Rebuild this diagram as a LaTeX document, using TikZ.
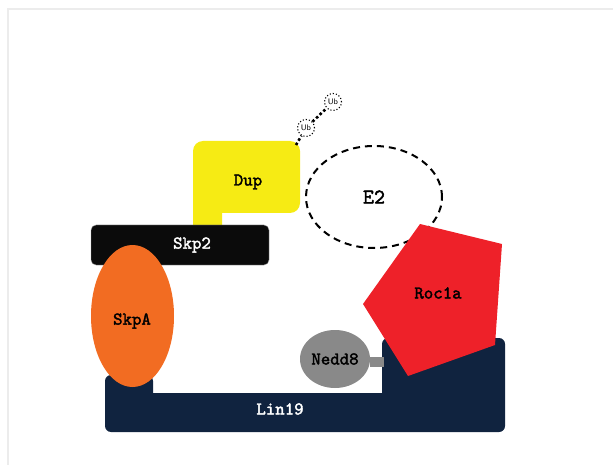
\documentclass[tikz,border=0pt]{standalone}
\usepackage{fontspec}
\newfontfamily\protfont[Extension=.otf, FakeBold=2]{lmmono10-regular}
\usetikzlibrary{positioning, shapes.geometric}

\definecolor{linnavy}{HTML}{10233F}
\definecolor{skporange}{HTML}{F26C22}
\definecolor{dupyellow}{HTML}{F6EB14}
\definecolor{rocred}{HTML}{EE2129}
\definecolor{neddgray}{HTML}{898989}
\definecolor{skpblack}{HTML}{0B0B0B}

\tikzset{
  protlabel/.style={font=\protfont\fontsize{18}{20}\selectfont},
  ubcircle/.style={circle, draw, dotted, line width=1.1pt, inner sep=0pt,
    minimum size=17pt, font=\sffamily\fontsize{8}{9}\selectfont},
  ubchain/.style={line width=2.6pt, dash pattern=on 2.6pt off 2.4pt}
}

\begin{document}
\begin{tikzpicture}[x=1pt, y=-1pt]
\useasboundingbox (0,0) rectangle (613,465);
\draw[gray!15, line width=1.5pt] (613,9) -- (8,9) -- (8,465);

% Dup
\fill[dupyellow] (193,200) rectangle (222,226)
  [rounded corners=10pt] (193,141) rectangle (300,213);
\node[protlabel] (dup) at (248,182) {Dup};
\coordinate (dupcorner) at (296,145);

% Skp2
\node[fill=skpblack, draw=gray!70, rounded corners=5pt, minimum width=178pt, minimum height=40pt] (skp2) at (180,245) {};
\node[protlabel, text=white] (skp2text) at (192,245) {Skp2};

% Lin19
\fill[linnavy, rounded corners=6pt] (105,375) rectangle (153,432)
  (382,338) rectangle (505,432) (105,393) rectangle (505,432);
\node[protlabel, text=white] (lin19) at (280,409) {Lin19};
\coordinate (lin19arm) at (384,362);

% SkpA
\node[ellipse, fill=skporange, minimum width=83pt, minimum height=142pt] (skpa) at (132.5,316) {};
\node[protlabel] (skpatext) at (132,321) {SkpA};

% Nedd8
\node[ellipse, fill=neddgray, minimum width=70pt, minimum height=58pt, inner sep=0pt, protlabel] (nedd8) at (335,359) {Nedd8};
\draw[neddgray, line width=10pt] (nedd8.east |- lin19arm) -- (lin19arm);

% E2 and ubiquitin chain
\node[ellipse, draw, line width=2pt, dash pattern=on 7pt off 5pt, minimum width=136pt, minimum height=102pt, protlabel, font=\protfont\fontsize{21}{24}\selectfont] (e2) at (374,197) {E2};
\node[ubcircle] (ub1) at (306,128) {Ub};
\node[ubcircle] (ub2) at (333,102) {Ub};
\draw[ubchain] (dupcorner) -- (ub1) -- (ub2);

% Roc1a
\fill[rocred] (420,224) -- (502,244) -- (495,345) -- (408,376) -- (363,304) -- cycle;
\node[protlabel] (roc1a) at (438,293) {Roc1a};

\end{tikzpicture}
\end{document}
